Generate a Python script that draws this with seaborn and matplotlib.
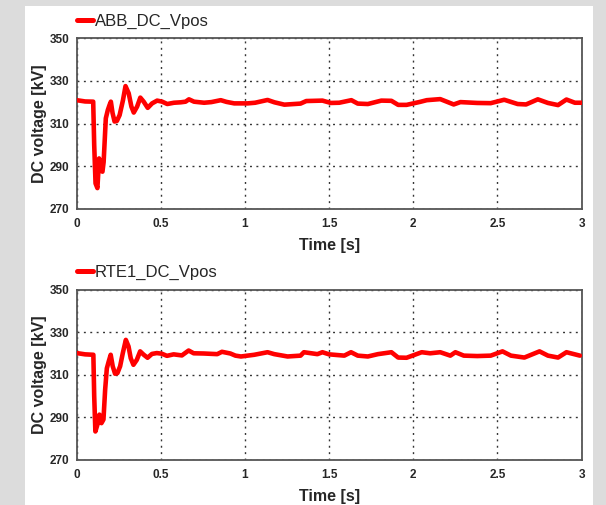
import matplotlib
matplotlib.use("Agg")
import matplotlib.pyplot as plt
from matplotlib.patches import Rectangle
import seaborn as sns
import pandas as pd

# DC pole voltage after the fault, converter station ABB
abb_time = [0.000, 0.050, 0.098, 0.104, 0.112, 0.123, 0.133, 0.143, 0.153, 0.160,
            0.173, 0.185, 0.195, 0.203, 0.213, 0.225, 0.239, 0.255, 0.275, 0.290,
            0.309, 0.325, 0.339, 0.359, 0.378, 0.398, 0.422, 0.448, 0.478, 0.508,
            0.538, 0.578, 0.618, 0.647, 0.667, 0.697, 0.757, 0.800, 0.856, 0.890,
            0.936, 1.016, 1.060, 1.134, 1.175, 1.234, 1.330, 1.364, 1.460, 1.510,
            1.560, 1.632, 1.670, 1.730, 1.810, 1.870, 1.910, 1.960, 2.040, 2.080,
            2.160, 2.240, 2.280, 2.380, 2.460, 2.540, 2.620, 2.670, 2.740, 2.800,
            2.860, 2.910, 2.960, 3.000]
abb_kv = [321.0, 320.4, 320.3, 300.0, 282.0, 279.8, 293.7, 288.0, 287.5, 292.0,
          312.5, 316.4, 318.7, 320.3, 315.0, 311.0, 311.3, 314.0, 321.0, 327.6,
          324.2, 318.0, 315.2, 318.0, 322.2, 320.3, 317.4, 319.5, 320.8, 320.3,
          319.2, 319.8, 320.0, 320.3, 321.4, 320.3, 319.8, 320.1, 321.0, 320.2,
          319.5, 319.5, 319.8, 321.1, 320.0, 318.9, 319.4, 320.6, 320.8, 319.7,
          319.8, 321.0, 319.4, 319.2, 320.8, 320.7, 318.8, 318.8, 320.2, 321.0,
          321.5, 319.0, 320.1, 319.7, 319.6, 321.2, 319.2, 319.0, 321.4, 319.7,
          318.7, 321.3, 319.8, 319.8]

# DC pole voltage after the fault, converter station RTE1
rte_time = [0.000, 0.050, 0.099, 0.104, 0.111, 0.123, 0.135, 0.147, 0.159, 0.169,
            0.179, 0.190, 0.202, 0.214, 0.228, 0.242, 0.258, 0.274, 0.292, 0.308,
            0.321, 0.337, 0.357, 0.377, 0.397, 0.421, 0.447, 0.476, 0.506, 0.536,
            0.576, 0.625, 0.665, 0.695, 0.755, 0.835, 0.863, 0.913, 0.943, 0.976,
            1.055, 1.134, 1.174, 1.253, 1.330, 1.350, 1.430, 1.460, 1.500, 1.590,
            1.630, 1.670, 1.730, 1.790, 1.870, 1.910, 1.960, 2.050, 2.100, 2.160,
            2.220, 2.250, 2.300, 2.380, 2.460, 2.530, 2.580, 2.660, 2.750, 2.800,
            2.860, 2.910, 2.990]
rte_kv = [320.2, 319.6, 319.4, 300.0, 283.4, 286.6, 291.3, 287.3, 289.0, 303.0,
          313.0, 316.2, 319.4, 314.0, 310.5, 310.8, 314.0, 320.2, 326.4, 323.3,
          317.8, 314.7, 317.0, 321.0, 319.5, 318.0, 319.8, 320.2, 319.9, 318.9,
          319.6, 319.1, 321.4, 320.1, 320.0, 319.7, 320.8, 320.0, 319.0, 318.6,
          319.4, 320.6, 319.7, 318.6, 319.0, 320.6, 319.7, 320.6, 319.6, 319.0,
          320.6, 319.0, 318.6, 319.7, 320.6, 318.1, 318.0, 320.6, 320.1, 320.6,
          319.0, 320.6, 319.0, 318.8, 319.0, 321.0, 319.0, 318.1, 321.0, 319.0,
          318.1, 320.6, 319.0]

series_names = ["ABB_DC_Vpos", "RTE1_DC_Vpos"]
x_ticks = [0, 0.5, 1, 1.5, 2, 2.5, 3]
x_tick_labels = ["0", "0.5", "1", "1.5", "2", "2.5", "3"]
y_ticks = [270, 290, 310, 330, 350]

sns.set_style("white")
plt.rcParams["font.family"] = ["Liberation Sans", "DejaVu Sans"]

W, H = 606, 505
fig = plt.figure(figsize=(W / 100, H / 100), dpi=100)
fig.patch.set_facecolor("#dcdcdc")
fig.patches.append(Rectangle((25 / W, 0), (593 - 25) / W, 1 - 6 / H,
                             transform=fig.transFigure, facecolor="white",
                             edgecolor="none", zorder=-10))

left, right = 76.7, 581.6
panels = [
    (fig.add_axes([left / W, 1 - 209 / H, (right - left) / W, (209 - 38.3) / H]),
     abb_time, abb_kv, series_names[0]),
    (fig.add_axes([left / W, 1 - 460 / H, (right - left) / W, (460 - 289.6) / H]),
     rte_time, rte_kv, series_names[1]),
]

for ax, t, v, name in panels:
    ax.set_zorder(1)
    df = pd.DataFrame({"Time [s]": t, "DC voltage [kV]": v})
    sns.lineplot(data=df, x="Time [s]", y="DC voltage [kV]", ax=ax,
                 color="#ff0000", linewidth=3.3, label=name, zorder=3)
    ax.set_xlim(0, 3)
    ax.set_ylim(270, 350)
    ax.set_xticks(x_ticks)
    ax.set_xticklabels(x_tick_labels)
    ax.set_yticks(y_ticks)
    ax.grid(True, color="#333333", linestyle=(0, (1.4, 3.2)), linewidth=1.0)
    for sp in ax.spines.values():
        sp.set_color("#555555")
        sp.set_linewidth(1.3)
    ax.tick_params(axis="both", direction="inout", length=5, width=1,
                   color="#555555", labelsize=8.5)
    ax.tick_params(axis="x", pad=4)
    ax.tick_params(axis="y", pad=3)
    for lbl in ax.get_xticklabels() + ax.get_yticklabels():
        lbl.set_fontweight("bold")
    ax.set_xlabel("Time [s]", fontsize=11.5, fontweight="bold", labelpad=6)
    ax.set_ylabel("DC voltage [kV]", fontsize=11.5, fontweight="bold", labelpad=2)
    ax.set_facecolor("white")
    leg = ax.legend(loc="lower left", bbox_to_anchor=(0.0, 1.055), frameon=False,
                    handlelength=1.0, handletextpad=0.1, borderaxespad=0,
                    borderpad=0, fontsize=12)
    for line in leg.get_lines():
        line.set_linewidth(3.6)

fig.savefig("out.png", dpi=100, facecolor=fig.get_facecolor())
